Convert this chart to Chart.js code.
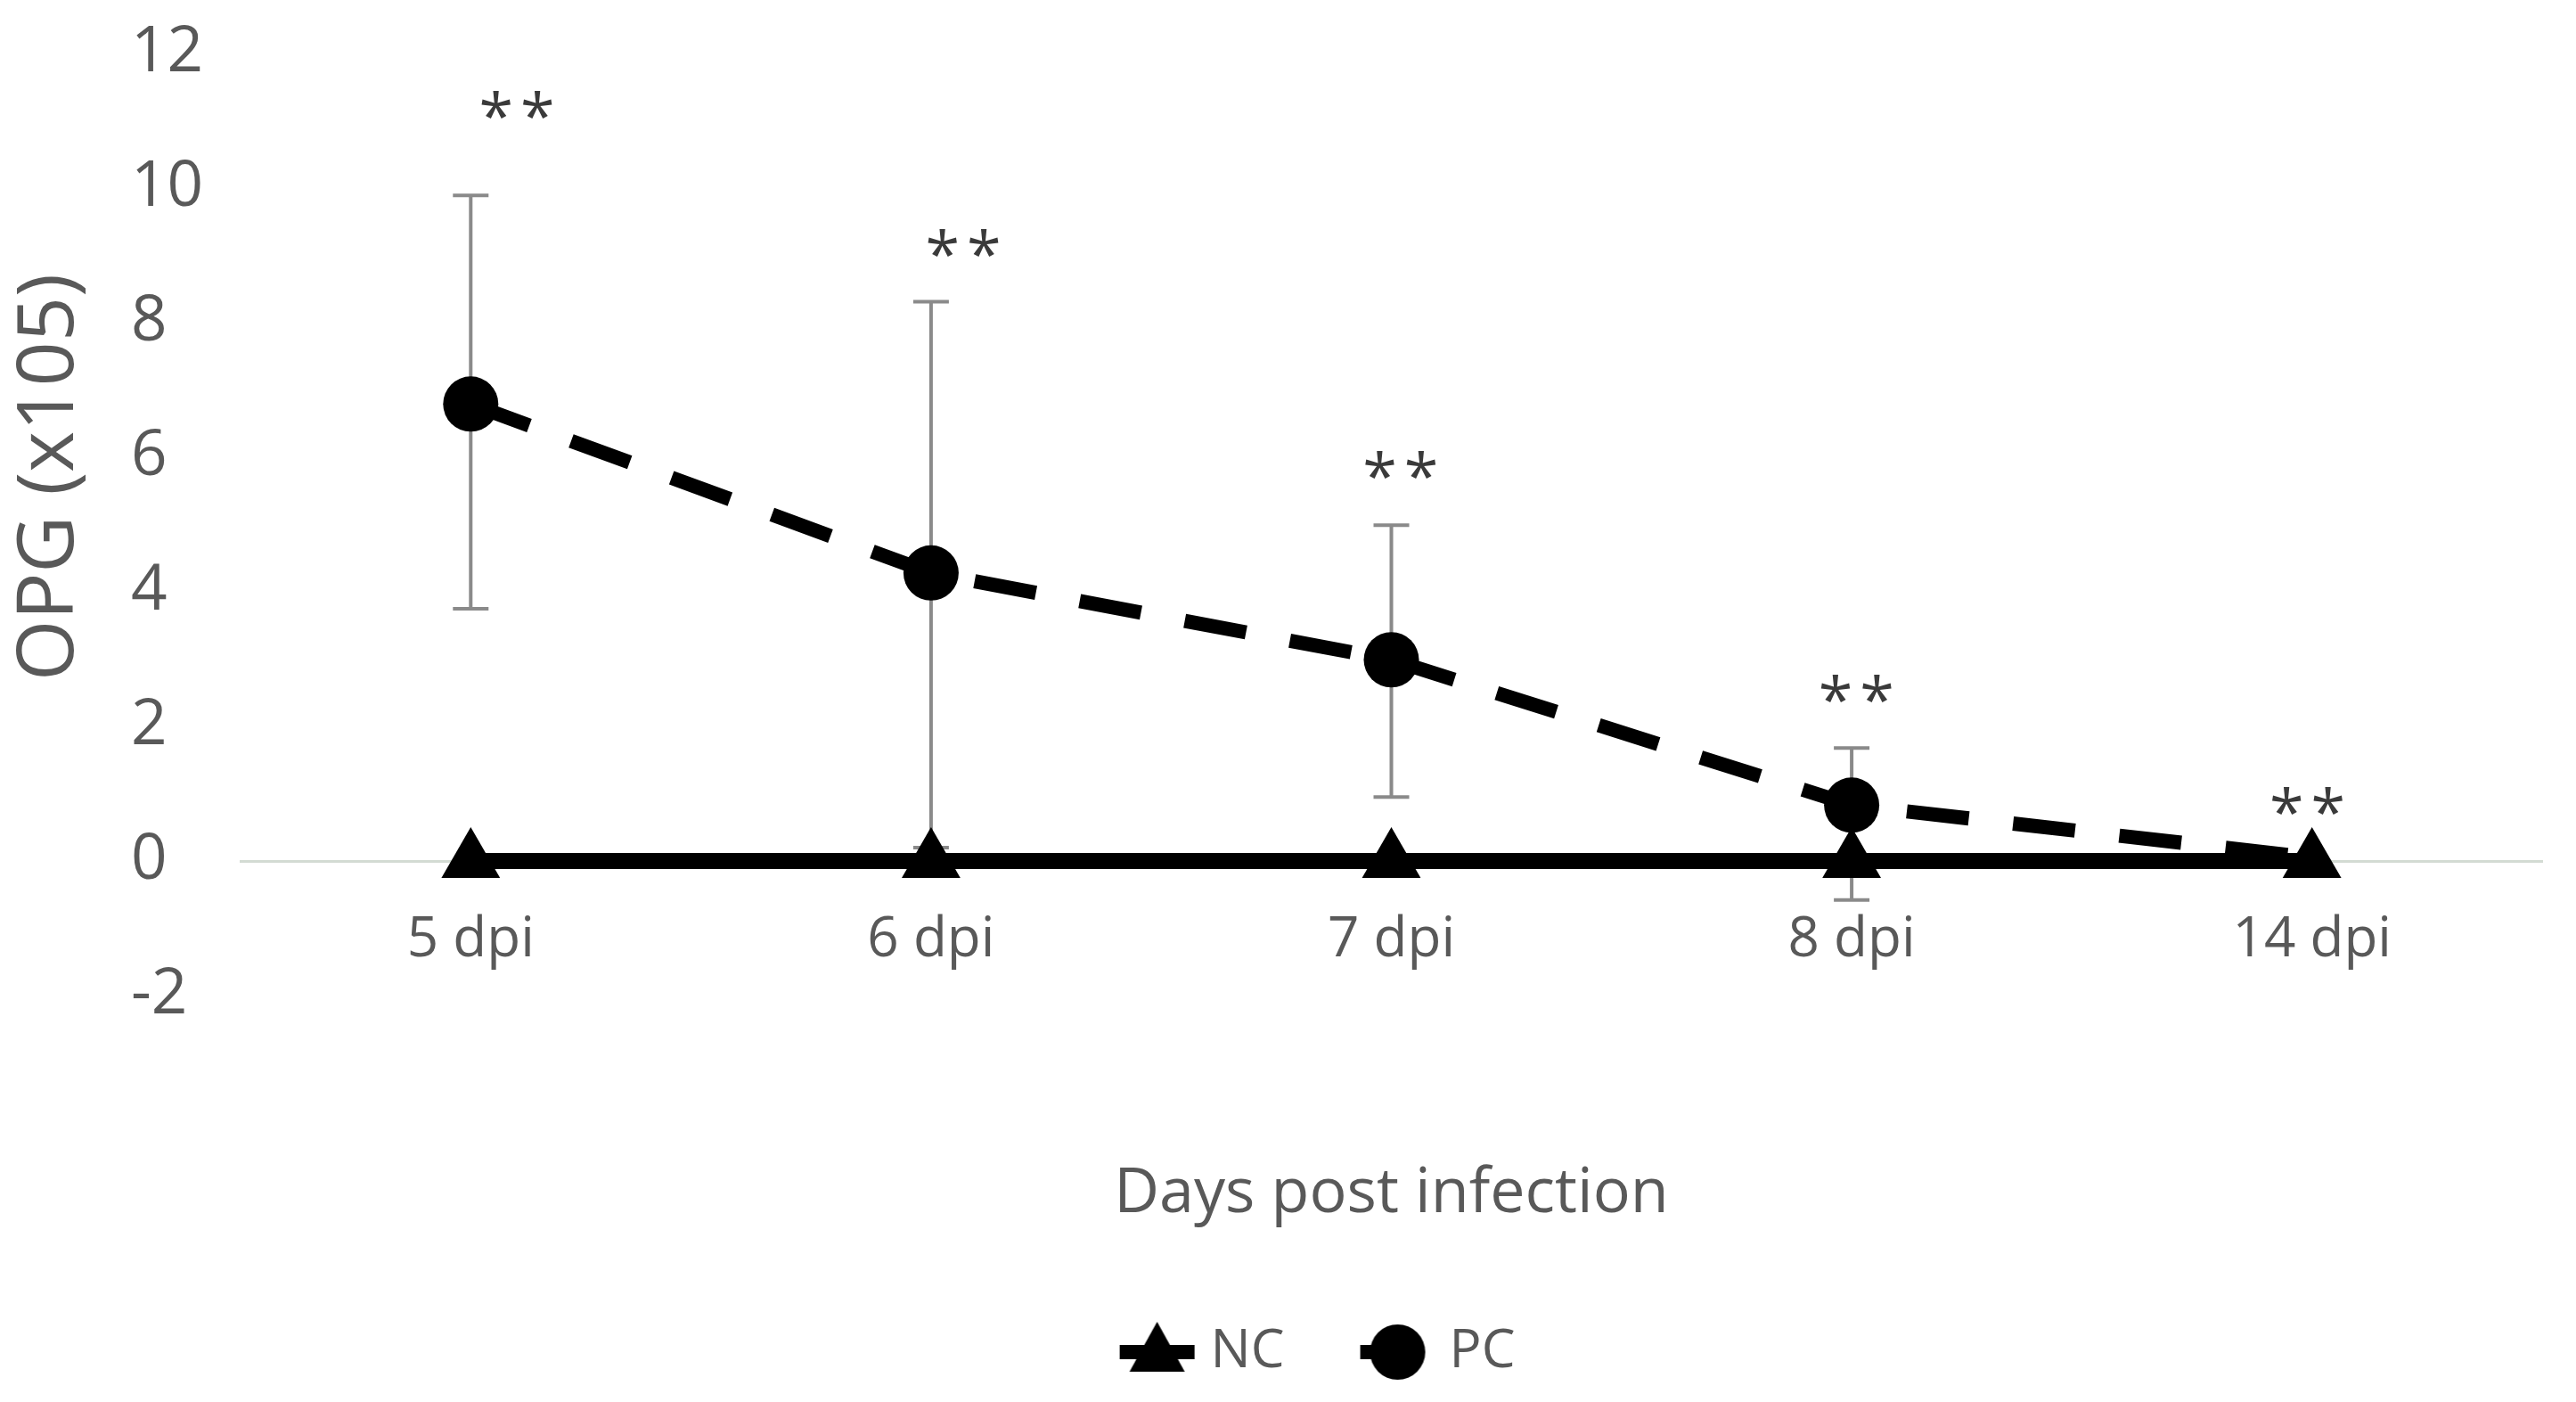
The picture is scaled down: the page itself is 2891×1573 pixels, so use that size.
<!DOCTYPE html>
<html>
<head>
<meta charset="utf-8">
<script src="https://cdn.jsdelivr.net/npm/chart.js@4.4.1/dist/chart.umd.min.js"></script>
<style>
  html, body { margin: 0; padding: 0; background: #fff; }
  canvas { display: block; }
</style>
</head>
<body>
<canvas id="opgChart" width="2891" height="1573"></canvas>
<script>
const days = ['5 dpi', '6 dpi', '7 dpi', '8 dpi', '14 dpi'];
const ncValues = [0, 0, 0, 0, 0];
const pcValues = [6.79, 4.28, 2.99, 0.83, 0.05];
const pcErrHigh = [9.89, 8.31, 4.99, 1.68, null];
const pcErrLow = [3.75, 0.2, 0.95, -0.58, null];
const sigLabels = ['**', '**', '**', '**', '**'];
const sigHeights = [11.1, 9.05, 5.75, 2.43, 0.75];

const Y_MIN = -2;
const Y_MAX = 12;
const Y_STEP = 2;

const GREY_TEXT = '#595959';
const FONT = "'Open Sans', sans-serif";
// small sideways nudge of the "**" labels, in category units
const SIG_SHIFT = [0.1, 0.07, 0.02, 0.01, -0.01];

Chart.defaults.font.family = FONT;
Chart.defaults.color = GREY_TEXT;

// legend swatch: short line with the series marker on it
function legendMarker(kind) {
    const c = document.createElement('canvas');
    c.width = 180;
    c.height = 80;
    const g = c.getContext('2d');
    const cy = 40;
    g.fillStyle = '#000';
    g.strokeStyle = '#000';
    g.lineWidth = 16;
    g.beginPath();
    if (kind === 'triangle') {
        const cx = 130;
        g.moveTo(88, cy);
        g.lineTo(172, cy);
        g.stroke();
        g.beginPath();
        g.moveTo(cx, cy - 34);
        g.lineTo(cx + 31, cy + 22);
        g.lineTo(cx - 31, cy + 22);
        g.closePath();
        g.fill();
    } else {
        const cx = 132;
        g.moveTo(90, cy);
        g.lineTo(cx, cy);
        g.stroke();
        g.beginPath();
        g.arc(cx, cy, 31, 0, Math.PI * 2);
        g.fill();
    }
    return c;
}

const markers = [legendMarker('triangle'), legendMarker('circle')];

const extrasPlugin = {
    id: 'extras',
    afterLayout(chart) {
        // Excel placed the y title a little above the middle of the axis
        const t = chart.scales.yTitle;
        if (t) t.bottom -= 106;
    },
    beforeDatasetsDraw(chart) {
        const { ctx, scales: { x, y } } = chart;
        ctx.save();
        ctx.strokeStyle = '#8a8a8a';
        ctx.lineWidth = 4;
        pcErrHigh.forEach((hi, i) => {
            if (hi === null) return;
            const px = x.getPixelForValue(i);
            const top = y.getPixelForValue(hi);
            const bottom = y.getPixelForValue(pcErrLow[i]);
            ctx.beginPath();
            ctx.moveTo(px, top);
            ctx.lineTo(px, bottom);
            ctx.moveTo(px - 20, top);
            ctx.lineTo(px + 20, top);
            ctx.moveTo(px - 20, bottom);
            ctx.lineTo(px + 20, bottom);
            ctx.stroke();
        });
        ctx.restore();
    },
    afterDatasetsDraw(chart) {
        const { ctx, scales: { x, y } } = chart;
        ctx.save();
        ctx.fillStyle = '#3a3a3a';
        ctx.font = '70px ' + FONT;
        ctx.textAlign = 'center';
        ctx.textBaseline = 'alphabetic';
        ctx.letterSpacing = '8px';
        sigLabels.forEach((txt, i) => {
            const px = x.getPixelForValue(i + SIG_SHIFT[i]);
            const py = y.getPixelForValue(sigHeights[i]);
            ctx.fillText(txt, px + 4, py + 27);
        });
        ctx.restore();
    }
};

const ctx = document.getElementById('opgChart').getContext('2d');
new Chart(ctx, {
    type: 'line',
    data: {
        labels: days,
        datasets: [{
            label: 'NC',
            data: ncValues,
            xAxisID: 'x',
            yAxisID: 'y',
            borderColor: '#000',
            backgroundColor: '#000',
            borderWidth: 18,
            pointStyle: 'triangle',
            pointRadius: 38,
            pointBorderWidth: 0,
            pointBackgroundColor: '#000',
            tension: 0
        }, {
            label: 'PC',
            data: pcValues,
            xAxisID: 'x',
            yAxisID: 'y',
            borderColor: '#000',
            backgroundColor: '#000',
            borderWidth: 16,
            borderDash: [70, 50],
            pointStyle: 'circle',
            pointRadius: [31, 31, 31, 31, 0],
            pointBorderWidth: 0,
            pointBackgroundColor: '#000',
            tension: 0
        }]
    },
    options: {
        responsive: false,
        animation: false,
        devicePixelRatio: 1,
        layout: {
            padding: { top: 60, right: 2, bottom: 16, left: 0 }
        },
        scales: {
            x: {
                type: 'category',
                position: { y: 0 },
                offset: true,
                // tick marks are hidden; their length only spaces the labels below the zero line
                grid: { display: false, drawTicks: true, tickLength: 52 },
                border: { display: true, color: '#d3dbd3', width: 3 },
                ticks: {
                    color: GREY_TEXT,
                    font: { size: 62 },
                    padding: 0,
                    maxRotation: 0
                }
            },
            x2: {
                type: 'category',
                position: 'bottom',
                labels: days,
                grid: { display: false, drawTicks: false },
                border: { display: false },
                ticks: { display: false },
                title: {
                    display: true,
                    text: 'Days post infection',
                    color: GREY_TEXT,
                    font: { size: 70 },
                    padding: { top: 0, bottom: 90 }
                },
                afterFit(scale) { scale.height = 355; }
            },
            y: {
                type: 'linear',
                position: 'left',
                min: Y_MIN,
                max: Y_MAX,
                grid: { display: false, drawTicks: false },
                border: { display: false },
                ticks: {
                    stepSize: Y_STEP,
                    color: GREY_TEXT,
                    font: { size: 71 },
                    crossAlign: 'far',
                    padding: 0
                },
                afterFit(scale) { scale.width = 123; }
            },
            yTitle: {
                type: 'linear',
                position: 'left',
                weight: 10,
                grid: { display: false, drawTicks: false },
                border: { display: false },
                ticks: { display: false },
                title: {
                    display: true,
                    text: 'OPG (x105)',
                    color: GREY_TEXT,
                    font: { size: 88 },
                    padding: { top: 4, bottom: 0 }
                },
                afterFit(scale) { scale.width = 147; }
            }
        },
        plugins: {
            legend: {
                display: true,
                position: 'bottom',
                labels: {
                    usePointStyle: true,
                    pointStyleWidth: 140,
                    padding: 15,
                    color: GREY_TEXT,
                    font: { size: 60 },
                    generateLabels(chart) {
                        const items = Chart.defaults.plugins.legend.labels.generateLabels(chart);
                        items.forEach((item, i) => {
                            item.pointStyle = markers[i];
                        });
                        return items;
                    }
                }
            },
            tooltip: { enabled: false }
        }
    },
    plugins: [extrasPlugin]
});
</script>
</body>
</html>
